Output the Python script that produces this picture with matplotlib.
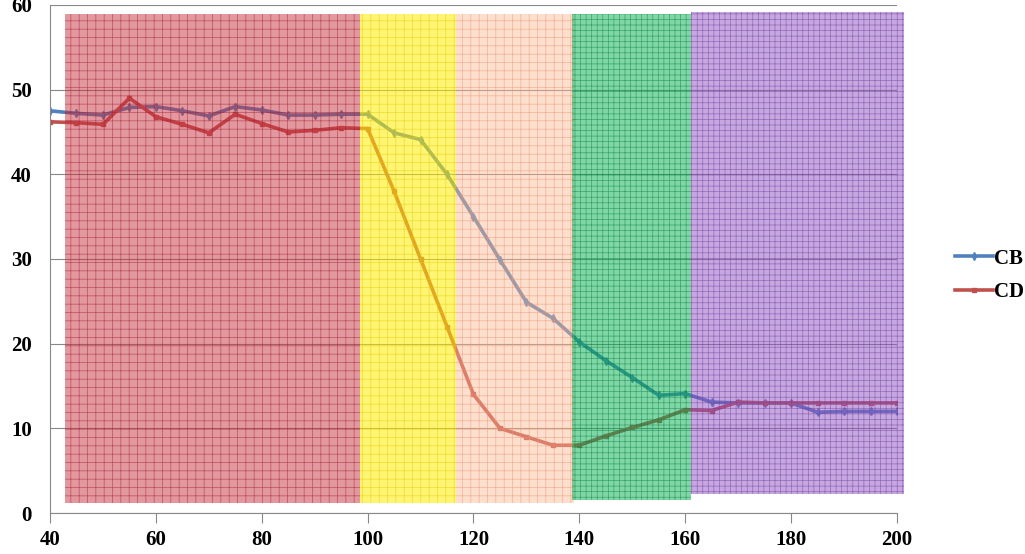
import matplotlib
matplotlib.use('Agg')
import matplotlib.pyplot as plt
from matplotlib.patches import Rectangle

x_vals = [40, 45, 50, 55, 60, 65, 70, 75, 80, 85, 90, 95, 100, 105, 110, 115, 120,
          125, 130, 135, 140, 145, 150, 155, 160, 165, 170, 175, 180, 185, 190, 195, 200]
cb = [47.5, 47.2, 47.0, 47.9, 48.0, 47.5, 46.9, 48.0, 47.6, 47.0, 47.0, 47.1, 47.1,
      44.9, 44.1, 40.0, 35.0, 29.9, 24.9, 23.0, 20.2, 18.0, 16.0, 13.9, 14.1, 13.1,
      13.0, 13.0, 13.0, 11.9, 12.0, 12.0, 12.0]
cd = [46.2, 46.1, 45.9, 49.0, 46.8, 45.9, 44.9, 47.1, 46.0, 45.0, 45.2, 45.5, 45.4,
      38.0, 30.0, 22.0, 14.0, 10.0, 9.0, 8.0, 8.0, 9.1, 10.1, 11.0, 12.2, 12.1,
      13.1, 13.0, 13.0, 13.0, 13.0, 13.0, 13.0]

# shaded zones: (x0, x1, y0, y1)
zones = [(42.8, 98.6, 1.2, 58.9), (98.6, 116.7, 1.2, 58.9), (116.7, 139.0, 1.2, 58.9),
         (138.6, 161.0, 1.5, 58.9), (161.0, 201.3, 2.2, 59.2)]
zone_fill = ['#c8303f', '#ffee00', '#fbb890', '#00b050', '#9050c0']
zone_alpha = [0.5, 0.55, 0.45, 0.5, 0.5]
zone_line = ['#a02030', '#e0c800', '#f09070', '#108040', '#7040a0']
zone_hatch = ['++', '++', '++', '+++', '+++']

plt.rcParams['hatch.linewidth'] = 0.5
fig = plt.figure(figsize=(10.25, 5.54), dpi=100)
ax = fig.add_axes([0.0488, 0.074, 0.8263, 0.917])

ax.plot(x_vals, cb, color='#4f81bd', lw=2.6, marker='d', ms=4, label='CB', zorder=2)
ax.plot(x_vals, cd, color='#c0504d', lw=2.6, marker='s', ms=3.5, label='CD', zorder=2)

for i in range(len(zones)):
	x0, x1, y0, y1 = zones[i]
	ax.add_patch(Rectangle((x0, y0), x1 - x0, y1 - y0, facecolor=zone_fill[i],
	                       alpha=zone_alpha[i], lw=0, zorder=3, clip_on=False))
	ax.add_patch(Rectangle((x0, y0), x1 - x0, y1 - y0, facecolor='none',
	                       edgecolor=zone_line[i], hatch=zone_hatch[i], lw=0,
	                       alpha=0.6, zorder=3, clip_on=False))

ax.set_xlim(40, 200)
ax.set_ylim(0, 60)
ax.set_xticks(range(40, 201, 20))
ax.set_yticks(range(0, 61, 10))
ax.yaxis.grid(True, color='#888888', lw=0.8, zorder=1)
ax.set_axisbelow(True)
for s in ['top', 'right']:
	ax.spines[s].set_visible(False)
ax.spines['left'].set_color('#888888')
ax.spines['bottom'].set_color('#888888')
ax.tick_params(axis='y', length=0, pad=13)
ax.tick_params(axis='x', length=7, color='#888888', direction='out', pad=5)
for lab in ax.get_xticklabels() + ax.get_yticklabels():
	lab.set_fontfamily('Liberation Serif')
	lab.set_fontweight('bold')
	lab.set_fontsize(15)

fig.legend(loc='center left', bbox_to_anchor=(0.922, 0.503), frameon=False,
           borderpad=0, handlelength=1.8, handletextpad=0.05, labelspacing=0.63,
           prop={'family': 'Liberation Serif', 'weight': 'bold', 'size': 15})

fig.savefig('out.png', dpi=100)
